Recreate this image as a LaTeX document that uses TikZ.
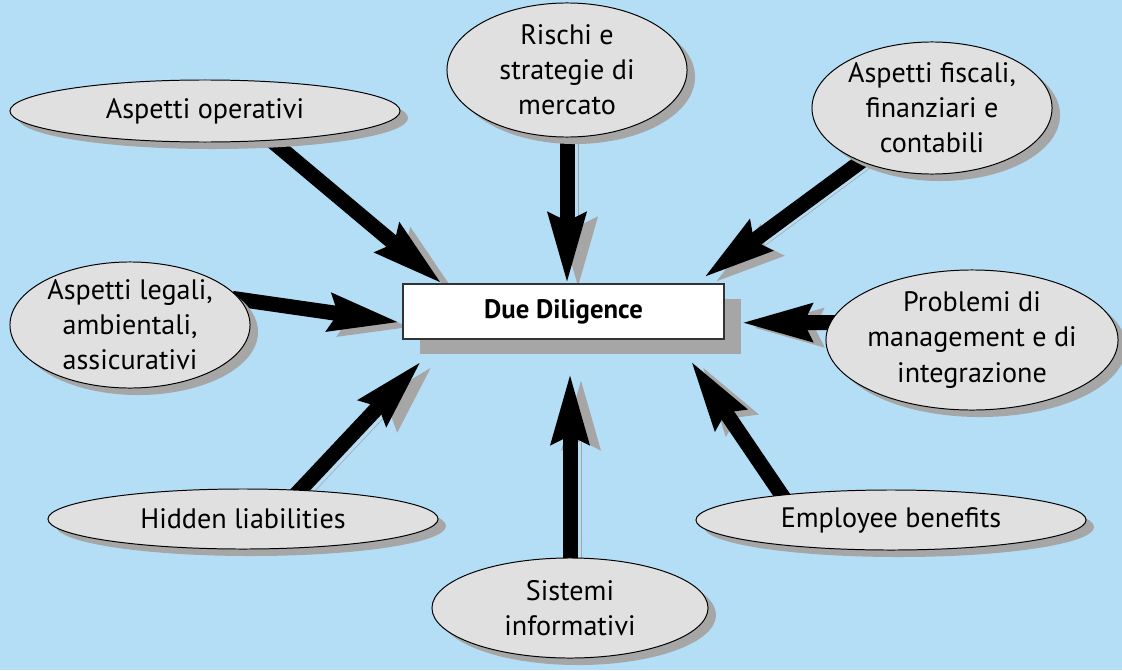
\documentclass[tikz,border=0pt]{standalone}
\usepackage{fontspec}
\setmainfont{PT Sans}
\usetikzlibrary{arrows.meta,shapes.geometric,shadows}
\definecolor{sky}{HTML}{B4DEF6}
\definecolor{bubble}{HTML}{E0E0E0}
\definecolor{shadowgray}{HTML}{A6A6A6}
\pgfdeclarelayer{backdrop}
\pgfdeclarelayer{arrows}
\pgfsetlayers{backdrop,arrows,main}

\begin{document}
\begin{tikzpicture}[x=0.025cm, y=-0.025cm]

% definitions
\tikzstyle{topic} = [ellipse, draw=black, line width=0.7pt, fill=bubble, inner sep=-4pt, align=center, font=\fontsize{20}{25}\selectfont, drop shadow={shadow xshift=0.2cm, shadow yshift=-0.175cm, fill=shadowgray, opacity=1}]

\tikzstyle{centre} = [rectangle, draw=black!80, line width=0.9pt, fill=white, minimum width=8.025cm, minimum height=1.375cm, font=\fontsize{19}{23}\selectfont\bfseries, drop shadow={shadow xshift=0.425cm, shadow yshift=-0.375cm, fill=shadowgray, opacity=1}]

\tikzstyle{arrow} = [line width=0.375cm, -{Stealth[length=1.75cm, width=1.0cm, inset=0.25cm, line width=0pt]}, shorten <=-0.2cm, preaction={draw=shadowgray, transform canvas={xshift=0.275cm, yshift=-0.125cm}}]

\path [use as bounding box] (0,0) rectangle (1122,670);
\begin{pgfonlayer}{backdrop}
\fill [sky] (0,0) rectangle (1122,670);
\end{pgfonlayer}

% the graph
\node (dd) [centre] at (563.5,311.5) {Due Diligence};

\node (ops) [topic, minimum width=9.75cm, minimum height=1.55cm] at (205,111) {Aspetti operativi};

\node (risk) [topic, minimum width=6cm, minimum height=3.35cm] at (567,70) {Rischi e\\strategie di\\mercato};

\node (fisc) [topic, minimum width=6cm, minimum height=3.3cm] at (932,108) {Aspetti fiscali,\\finanziari e\\contabili};

\node (leg) [topic, minimum width=6cm, minimum height=3.15cm] at (130,325) {Aspetti legali,\\ambientali,\\assicurativi};

\node (prob) [topic, minimum width=7.3cm, minimum height=3.5cm] at (972,340) {Problemi di\\management e di\\integrazione};

\node (hid) [topic, minimum width=9.75cm, minimum height=1.5cm] at (243,519) {Hidden liabilities};

\node (sis) [topic, minimum width=6.9cm, minimum height=2.5cm] at (570,608) {Sistemi\\informativi};

\node (emp) [topic, minimum width=9.75cm, minimum height=1.5cm] at (891,520) {Employee benefits};

\begin{pgfonlayer}{arrows}
\draw [arrow, shorten >=0.05cm] (ops.-24) -- (dd.167);
\draw [arrow, shorten >=0.05cm] (risk.south) -- (risk.south |- dd.north);
\draw [arrow, shorten >=0.3cm] (fisc.217) -- (dd.12);
\draw [arrow, shorten >=0.125cm] (leg.13) -- (dd.184);
\draw [arrow, shorten >=0.475cm] (prob.173) -- (dd.-4);
\draw [arrow, shorten >=0.8cm] (hid.27) -- (dd.193);
\draw [arrow, shorten >=0.9cm] (sis.north) -- (sis.north |- dd.south);
\draw [arrow, shorten >=0.7cm] (emp.167) -- (dd.-14);
\end{pgfonlayer}

\end{tikzpicture}
\end{document}
